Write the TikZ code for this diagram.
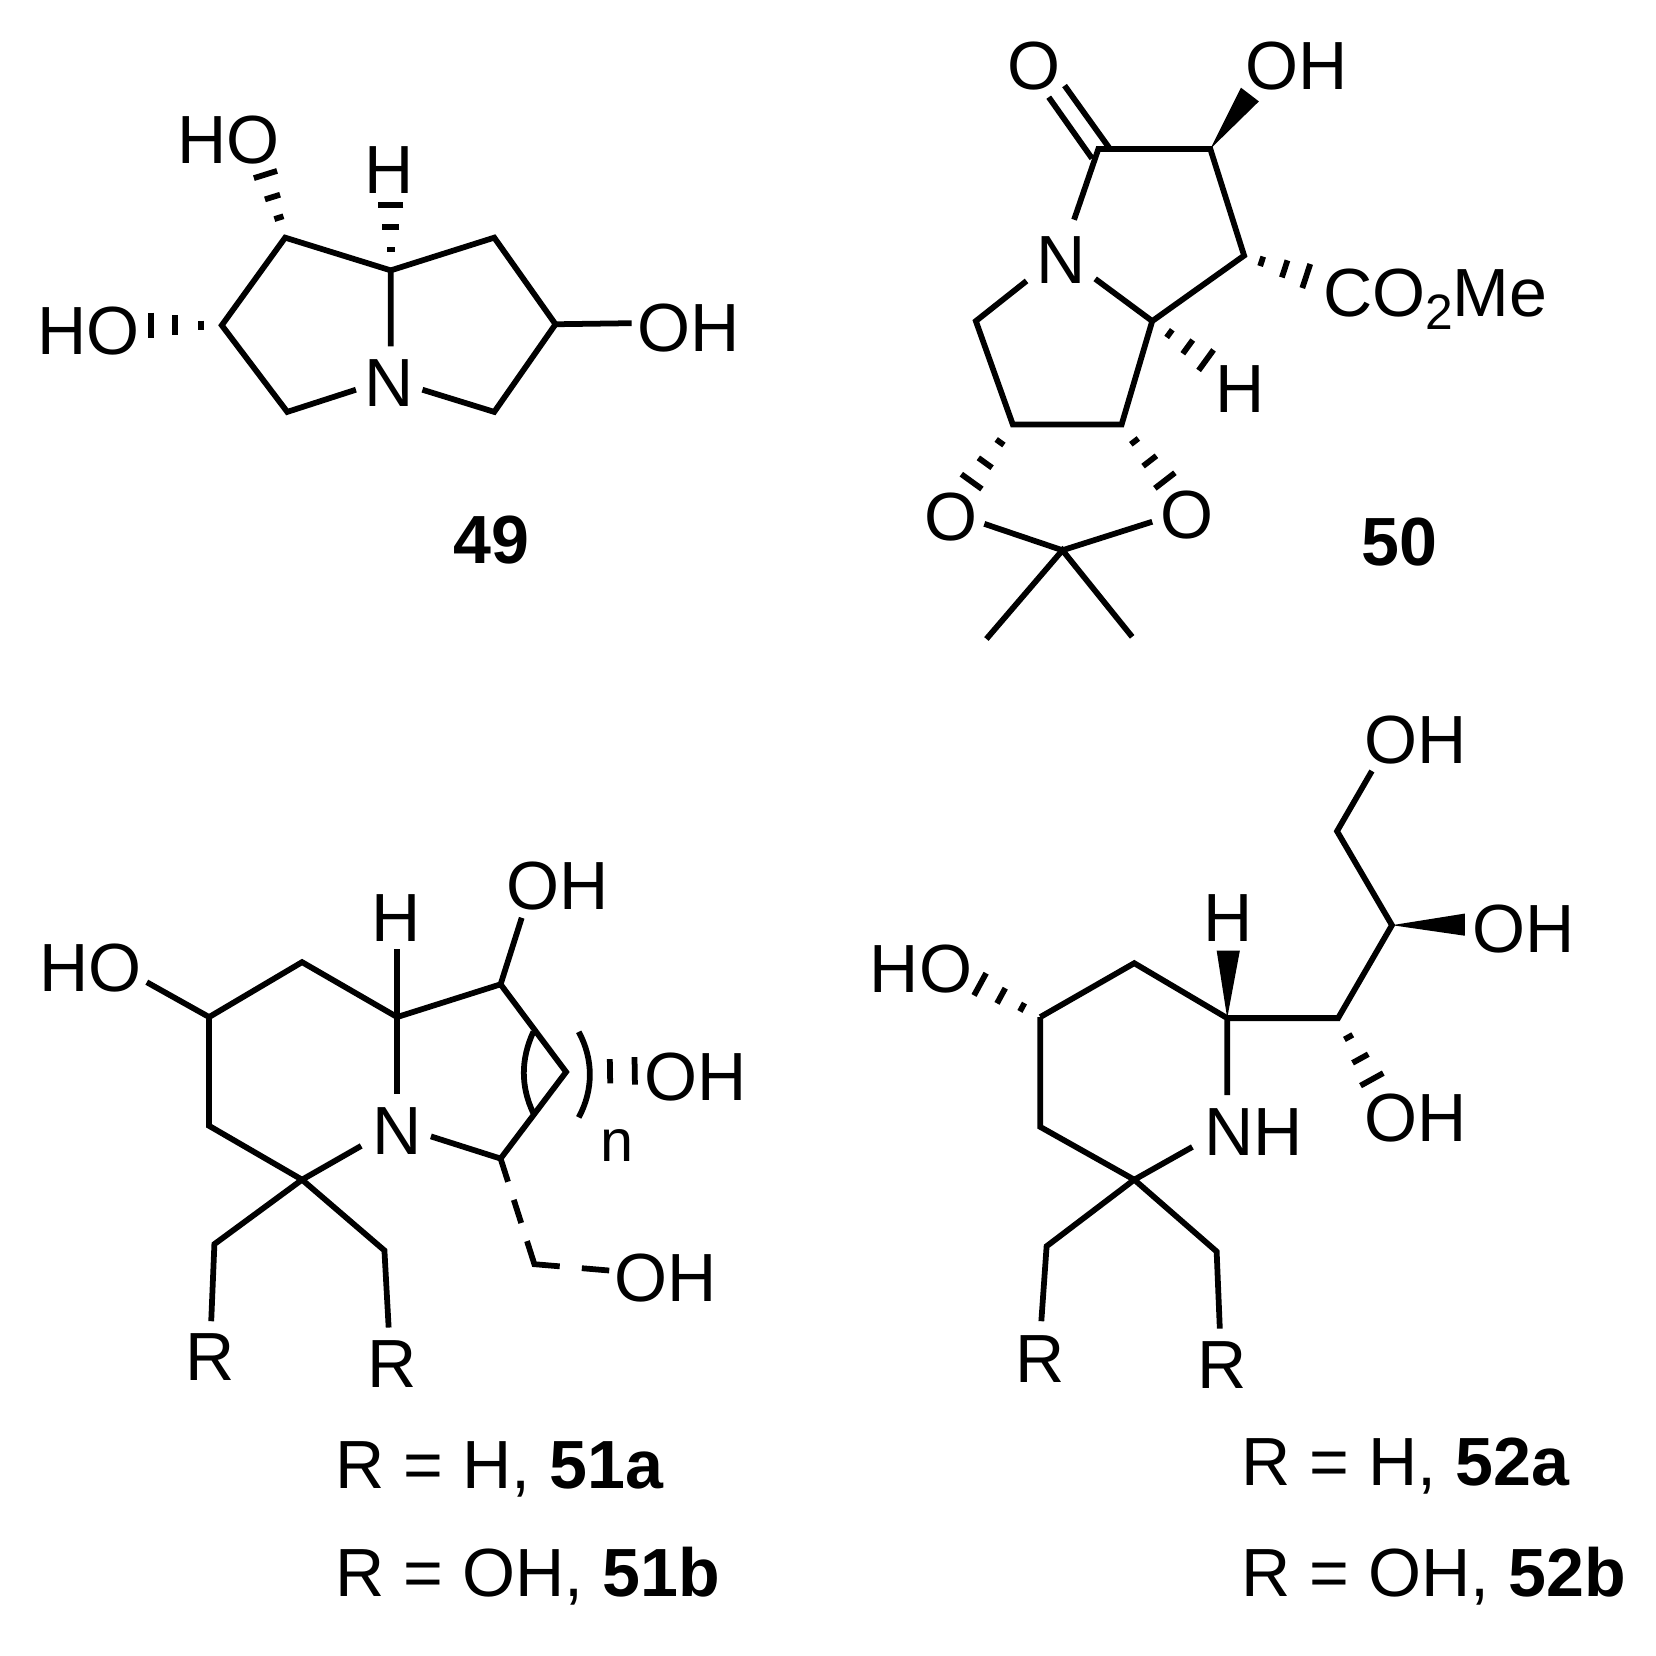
\documentclass[tikz,border=0pt]{standalone}
\usepackage{fontspec}
\setmainfont{Liberation Sans}
\usetikzlibrary{calc}
\newcommand{\hashb}[3]{\foreach \hf/\hw in {#3}{%
  \coordinate (hp) at ($(#1)!\hf!(#2)$);
  \draw[bond] ($(hp)!\hw*0.01cm!90:(#1)$) -- ($(hp)!\hw*0.01cm!-90:(#1)$);}}
\newcommand{\subtwo}{\raisebox{-0.12cm}{\fontsize{13.4pt}{14pt}\selectfont 2}}
\tikzset{
  bond/.style={line width=1.55pt,black,line join=miter},
  wedgeb/.style={fill=black,draw=none},
  lab/.style={anchor=base,inner sep=0pt,yshift=-0.02cm,font=\fontsize{18.35pt}{20pt}\selectfont,text=black},
  labw/.style={anchor=base west,inner sep=0pt,yshift=-0.02cm,font=\fontsize{18.35pt}{20pt}\selectfont,text=black},
  labn/.style={anchor=base,inner sep=0pt,font=\fontsize{16pt}{18pt}\selectfont,text=black},
}
\begin{document}
\begin{tikzpicture}[x=0.01cm,y=-0.01cm]
\useasboundingbox (0,0) rectangle (1568,1568);
% ---------- atoms ----------
\foreach \n/\x/\y in {
 a1/270/225,a2/210/308,a3/272/390,a4/368/362,a5/468/390,a6/526/307,a7/468/225,a8/370/256,
 a9/370/328,a10/337/369,a11/400/369,a12/598/306,a13/143/308,a14/251/164,a15/370/194,
 b1/1040/141,b2/1146/141,b3/1178/242,b4/1091/304,b5/1062/402,b6/959/402,b7/924/304,
 b8/972/266,b9/1037/264,b10/1017/208,b11/1006/521,b12/932/496,b13/1091/494,b14/934/605,b15/1072/603,
 b16/1034/150,b17/993/92,b18/1051/141,b19/1008/81,b20/1175/83,b21/1192/96,b22/1242/263,
 b23/1142/341,b24/920/456,b25/1103/455,
 c1/198/963,c2/286/911,c3/376/963,c4/474/932,c5/494/869,c6/376/899,c7/376/1036,c8/139/930,
 c9/198/1066,c10/286/1117,c11/342/1085,c12/203/1178,c13/200/1251,c14/364/1184,c15/368/1257,
 c16/408/1076,c17/474/1097,c18/536/1015,c19/506/1197,c20/577/1203,c21/601/1014,
 c22/505/977,c23/505/1054,c24/548/977,c25/548/1058,
 d1/985/963,d2/1074/912,d3/1162/964,d4/1162/1037,d5/985/1067,d6/1074/1117,d7/1129/1086,
 d8/991/1180,d9/986/1251,d10/1152/1185,d11/1155/1258,d12/1152/900,d13/1174/900,d14/1267/964,
 d15/1318/876,d16/1266/787,d17/1299/730,d18/1387/865,d19/1387/886,d20/928/932,d21/1299/1022}
 \coordinate (\n) at (\x,\y);
% ---------- compound 49 ----------
\draw[bond] (a8)--(a1)--(a2)--(a3)--(a10);
\draw[bond] (a9)--(a8)--(a7)--(a6)--(a5)--(a11);
\draw[bond] (a6)--(a12);
\hashb{a2}{a13}{0.29/4.5,0.66/9.5,1/12}
\hashb{a1}{a14}{0.31/4.5,0.63/7.5,0.98/11.5}
\hashb{a8}{a15}{0.32/4,0.66/8,1/12}
\node[lab] (t1) at (216,153) {HO};
\node[lab] (t2) at (368,181) {H};
\node[lab] (t3) at (84,334) {HO};
\node[lab] (t4) at (652,331) {OH};
\node[lab] (t5) at (368,383) {N};
\node[lab,font=\fontsize{18.35pt}{20pt}\selectfont\bfseries] (t6) at (465,532) {49};
% ---------- compound 50 ----------
\draw[bond] (b10)--(b1)--(b2)--(b3)--(b4)--(b5)--(b6)--(b7)--(b8);
\draw[bond] (b4)--(b9);
\draw[bond] (b16)--(b17);
\draw[bond] (b18)--(b19);
\draw[bond] (b12)--(b11)--(b13);
\draw[bond] (b14)--(b11)--(b15);
\fill[wedgeb] (b2)--(b20)--(b21)--cycle;
\hashb{b3}{b22}{0.26/4.7,0.6/8.5,0.92/12}
\hashb{b4}{b23}{0.32/4.5,0.66/8,1/12}
\hashb{b6}{b24}{0.31/4.5,0.67/8,1/12}
\hashb{b5}{b25}{0.3/4.5,0.65/8,1/12}
\node[lab] (u1) at (979,83) {O};
\node[lab] (u2) at (1228,83) {OH};
\node[lab] (u3) at (1005,266) {N};
\node[labw] (u4) at (1252,298) {CO\subtwo Me};
\node[lab] (u5) at (1174,389) {H};
\node[lab] (u6) at (900,510) {O};
\node[lab] (u7) at (1124,508) {O};
\node[lab,font=\fontsize{18.35pt}{20pt}\selectfont\bfseries] (u8) at (1325,533) {50};
% ---------- compound 51 ----------
\draw[bond] (c8)--(c1)--(c2)--(c3)--(c4)--(c18)--(c17)--(c16);
\draw[bond] (c4)--(c5);
\draw[bond] (c1)--(c9)--(c10)--(c11);
\draw[bond] (c6)--(c7);
\draw[bond] (c13)--(c12)--(c10)--(c14)--(c15);
\draw[bond,dash pattern=on 0.23cm off 0.18cm on 0.23cm off 0.18cm on 0.47cm off 0.21cm on 0.26cm off 1cm] (c17)--(c19)--(c20);
\draw[bond] (c22) .. controls (493,1003) and (493,1029) .. (c23);
\draw[bond] (c24) .. controls (562,1003) and (562,1032) .. (c25);
\hashb{c18}{c21}{0.64/11.5,1/13}
\node[lab] (v1) at (528,859) {OH};
\node[lab] (v2) at (375,889) {H};
\node[lab] (v3) at (86,937) {HO};
\node[lab] (v4) at (376,1091) {N};
\node[lab] (v5) at (659,1040) {OH};
\node[labn] (v6) at (584,1100) {n};
\node[lab] (v7) at (630,1230) {OH};
\node[lab] (v8) at (199,1305) {R};
\node[lab] (v9) at (371,1312) {R};
\node[labw] (v10) at (317,1407) {R = H, \bfseries 51a};
\node[labw] (v11) at (317,1510) {R = OH, \bfseries 51b};
% ---------- compound 52 ----------
\draw[bond] (d1)--(d2)--(d3)--(d4);
\draw[bond] (d1)--(d5)--(d6)--(d7);
\draw[bond] (d9)--(d8)--(d6)--(d10)--(d11);
\draw[bond] (d3)--(d14)--(d15)--(d16)--(d17);
\fill[wedgeb] (d3)--(d12)--(d13)--cycle;
\fill[wedgeb] (d15)--(d18)--(d19)--cycle;
\hashb{d1}{d20}{0.30/4.5,0.65/8.2,1/12}
\hashb{d14}{d21}{0.31/4.5,0.66/8.5,1/12.3}
\node[lab] (w1) at (1163,889) {H};
\node[lab] (w2) at (1187,1092) {NH};
\node[lab] (w3) at (985,1307) {R};
\node[lab] (w4) at (1157,1313) {R};
\node[lab] (w5) at (872,938) {HO};
\node[lab] (w6) at (1340,721) {OH};
\node[lab] (w7) at (1443,900) {OH};
\node[lab] (w8) at (1340,1079) {OH};
\node[labw] (w9) at (1175,1405) {R = H, \bfseries 52a};
\node[labw] (w10) at (1175,1510) {R = OH, \bfseries 52b};
\end{tikzpicture}
\end{document}
